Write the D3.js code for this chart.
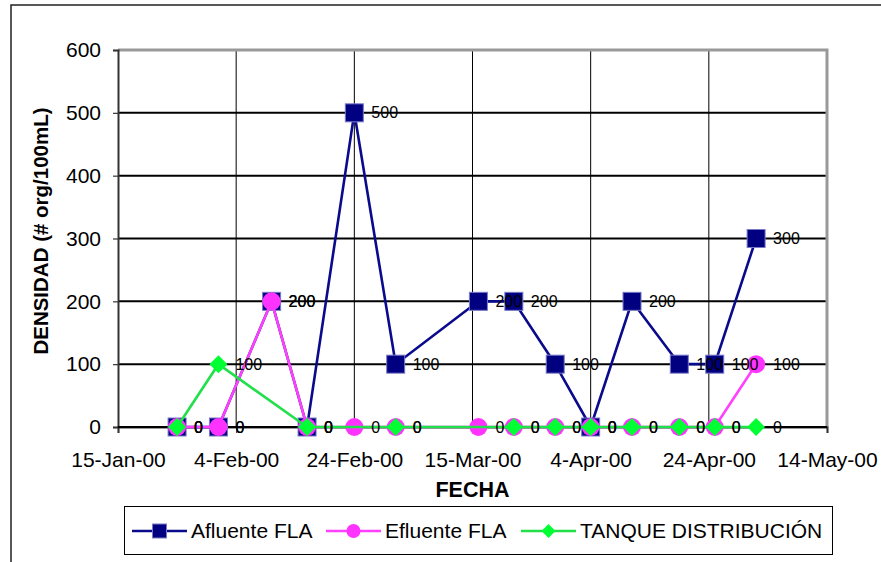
<!DOCTYPE html>
<html>
<head>
<meta charset="utf-8">
<script src="https://cdn.jsdelivr.net/npm/d3@7"></script>
<style>
  html, body { margin: 0; padding: 0; background: #fff; }
  svg { display: block; font-family: "Liberation Sans", Arial, sans-serif; }
</style>
</head>
<body>
<svg id="chart" width="881" height="562"></svg>
<script>
// ---- data ----
const dates = ["2000-01-25","2000-02-01","2000-02-10","2000-02-16","2000-02-24","2000-03-02",
               "2000-03-16","2000-03-22","2000-03-29","2000-04-04","2000-04-11","2000-04-19",
               "2000-04-25","2000-05-02"];
const afluente = [0, 0, 200, 0, 500, 100, 200, 200, 100, 0, 200, 100, 100, 300];
const efluente = [0, 0, 200, 0, 0, 0, 0, 0, 0, 0, 0, 0, 0, 100];
const tanque   = [0, 100, null, 0, null, 0, null, 0, 0, 0, 0, 0, 0, 0];
const seriesNames = ["Afluente FLA", "Efluente FLA", "TANQUE DISTRIBUCIÓN"];
const xTicks = ["2000-01-15","2000-02-04","2000-02-24","2000-03-15","2000-04-04","2000-04-24","2000-05-14"];
const yTicks = [0, 100, 200, 300, 400, 500, 600];
const xTitle = "FECHA";
const yTitle = "DENSIDAD (# org/100mL)";

// ---- setup ----
const parse = d3.utcParse("%Y-%m-%d");
const fmt = d3.utcFormat("%-d-%b-%y");
const svg = d3.select("#chart");
const L = 118, R = 827, T = 50, B = 427;
const x = d3.scaleUtc().domain([parse(xTicks[0]), parse(xTicks[xTicks.length - 1])]).range([L, R]);
const y = d3.scaleLinear().domain([0, 600]).range([B, T]);

const colors = ["#000080", "#ff33ff", "#00ff33"];
const lineColors = ["#0a0a8c", "#ff40ff", "#22e04a"];
const shapes = ["square", "circle", "diamond"];

// outer chart border
svg.append("rect").attr("x", 11).attr("y", 5).attr("width", 900).attr("height", 600)
  .attr("fill", "#fff").attr("stroke", "#222").attr("stroke-width", 1.5);

// gridlines
svg.append("g").selectAll("line").data(yTicks.slice(1)).join("line")
  .attr("x1", L).attr("x2", R).attr("y1", d => y(d)).attr("y2", d => y(d))
  .attr("stroke", "#000").attr("stroke-width", 2);
svg.append("g").selectAll("line").data(xTicks.slice(1, -1)).join("line")
  .attr("x1", d => x(parse(d))).attr("x2", d => x(parse(d))).attr("y1", T).attr("y2", B)
  .attr("stroke", "#000").attr("stroke-width", 1);

// plot border top/right gray
svg.append("path").attr("d", `M${L},${T}H${R}V${B}`).attr("fill", "none")
  .attr("stroke", "#999").attr("stroke-width", 3);

// axes
const yAxis = svg.append("g").attr("transform", `translate(${L},0)`)
  .call(d3.axisLeft(y).tickValues(yTicks).tickSize(5).tickPadding(12).tickFormat(d3.format("d")));
const xAxis = svg.append("g").attr("transform", `translate(0,${B})`)
  .call(d3.axisBottom(x).tickValues(xTicks.map(parse)).tickSize(6).tickPadding(19).tickFormat(fmt));
[yAxis, xAxis].forEach(g => {
  g.select(".domain").attr("stroke", "#333").attr("stroke-width", 2);
  g.selectAll(".tick line").attr("stroke", "#333").attr("stroke-width", 1.2);
  g.selectAll("text").attr("font-size", 21).attr("fill", "#000")
    .attr("font-family", "'Liberation Sans', Arial, sans-serif");
});
svg.append("line").attr("x1", L).attr("x2", R).attr("y1", B).attr("y2", B)
  .attr("stroke", "#000").attr("stroke-width", 2);

// titles
svg.append("text").attr("x", (L + R) / 2).attr("y", 497).attr("text-anchor", "middle")
  .attr("font-size", 21.5).attr("font-weight", "bold").text(xTitle);
svg.append("text").attr("transform", "translate(48,231) rotate(-90)").attr("text-anchor", "middle")
  .attr("font-size", 20.5).attr("font-weight", "bold").text(yTitle);

// markers
function marker(sel, shape, size, fill) {
  if (shape === "square") {
    sel.append("rect").attr("x", -size / 2).attr("y", -size / 2).attr("width", size).attr("height", size)
      .attr("fill", fill).attr("stroke", "#7a7ac8").attr("stroke-width", 1);
  } else if (shape === "circle") {
    sel.append("circle").attr("r", size / 2).attr("fill", fill);
  } else {
    const h = size / 2;
    sel.append("path").attr("d", `M0,${-h}L${h},0L0,${h}L${-h},0Z`).attr("fill", fill);
  }
}

// series
const allSeries = [afluente, efluente, tanque];
allSeries.forEach((vals, i) => {
  const pts = dates.map((d, j) => ({ date: parse(d), v: vals[j] })).filter(p => p.v !== null);
  const g = svg.append("g");
  g.append("path").datum(pts)
    .attr("d", d3.line().x(p => x(p.date)).y(p => y(p.v)))
    .attr("fill", "none").attr("stroke", lineColors[i]).attr("stroke-width", 2.6);
  pts.forEach(p => {
    const m = g.append("g").attr("transform", `translate(${x(p.date)},${y(p.v)})`);
    marker(m, shapes[i], 18, colors[i]);
  });
});
// data labels
allSeries.forEach((vals, i) => {
  const pts = dates.map((d, j) => ({ date: parse(d), v: vals[j] })).filter(p => p.v !== null);
  svg.append("g").selectAll("text").data(pts).join("text")
    .attr("x", p => x(p.date) + 17).attr("y", p => y(p.v)).attr("dy", "0.35em")
    .attr("font-size", 16).attr("fill", "#000").text(p => p.v);
});

// legend
const lg = svg.append("g");
lg.append("rect").attr("x", 124.5).attr("y", 506.5).attr("width", 708).attr("height", 48)
  .attr("fill", "#fff").attr("stroke", "#000").attr("stroke-width", 1);
const legX = [132, 326, 521];
seriesNames.forEach((name, i) => {
  const g = lg.append("g").attr("transform", `translate(${legX[i]},531)`);
  g.append("line").attr("x1", 0).attr("x2", 55).attr("stroke", lineColors[i]).attr("stroke-width", 2.6);
  const m = g.append("g").attr("transform", "translate(27.5,0)");
  marker(m, shapes[i], 14, colors[i]);
  g.append("text").attr("x", 59).attr("y", 7).attr("font-size", 21).text(name);
});
</script>
</body>
</html>
